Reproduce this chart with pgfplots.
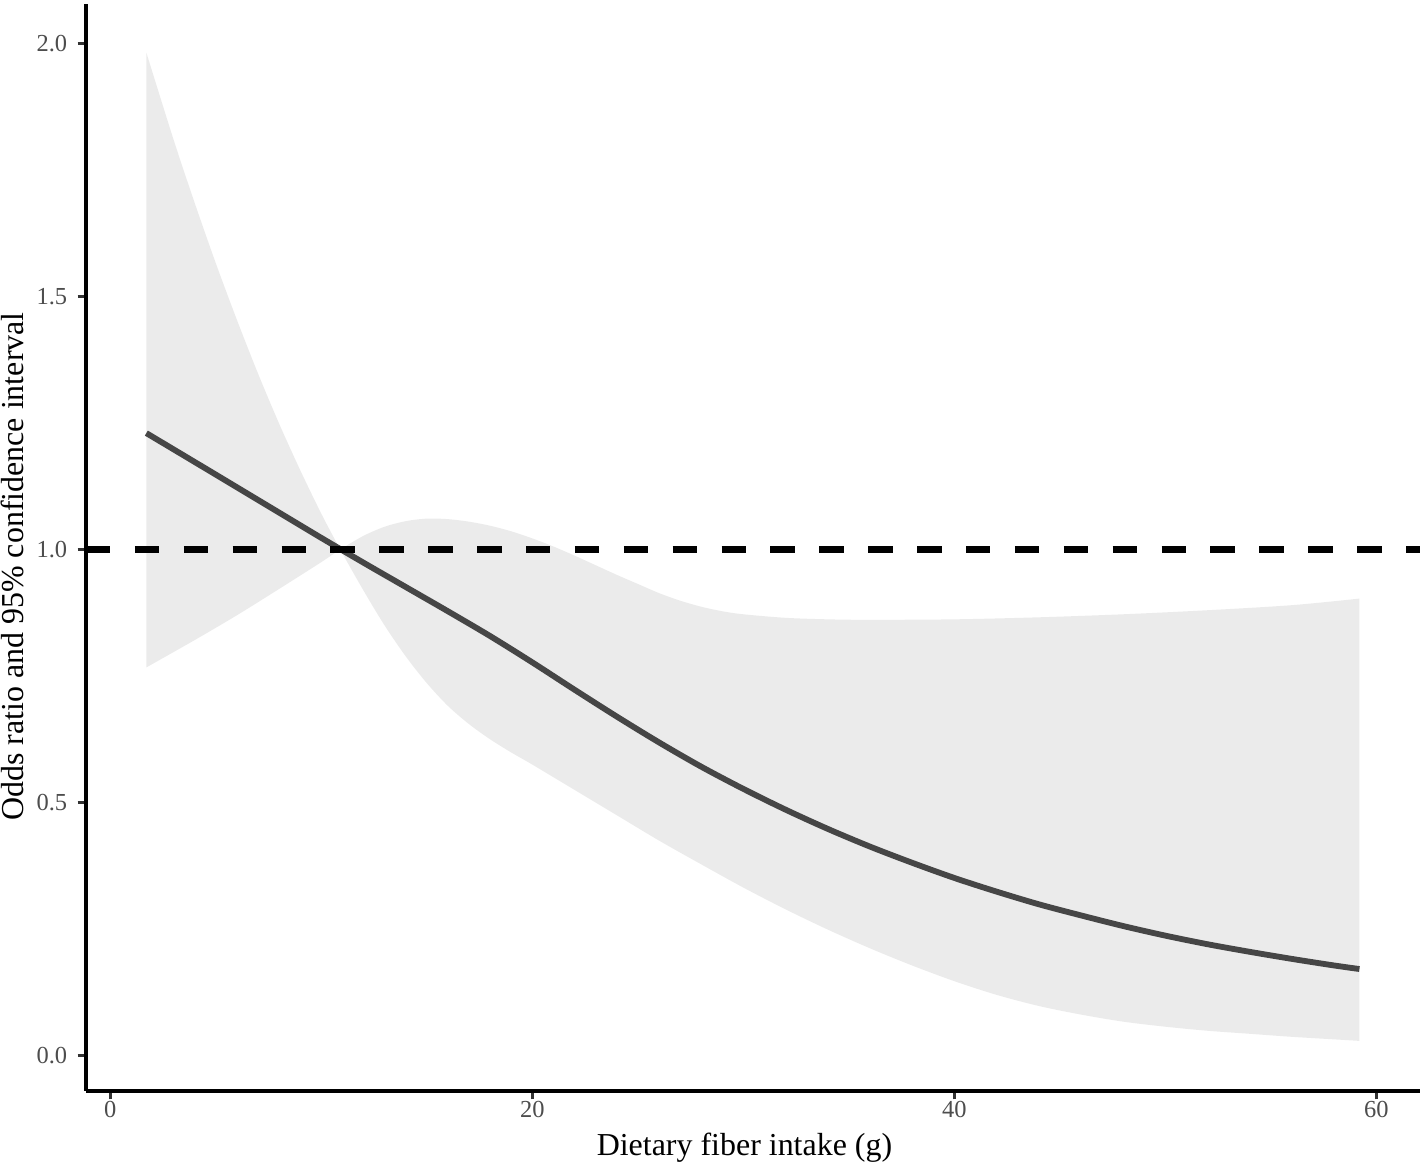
\documentclass[border=0pt]{standalone}
\usepackage{fontspec}
\setmainfont{Liberation Serif}
\usepackage{pgfplots}
\pgfplotsset{compat=1.18}
\usepgfplotslibrary{fillbetween}
\definecolor{bandgrey}{HTML}{EBEBEB}
\definecolor{linegrey}{HTML}{464646}
\definecolor{tickgrey}{HTML}{4D4D4D}

% dose-response: OR and 95% CI
% ciA: the steep bound (upper left of 10.9, lower right of it)
\pgfplotstableread{
x      y
1.71   1.982
3      1.810
4      1.685
5      1.566
6      1.454
7      1.348
8      1.249
9      1.157
10     1.071
10.9   1.000
12     0.919
13     0.850
14     0.789
15     0.736
16     0.691
17     0.655
18     0.625
19     0.599
20     0.575
22     0.525
24     0.475
26     0.425
28     0.378
30     0.332
32     0.289
34     0.249
36     0.212
38     0.178
40     0.147
42     0.120
44     0.098
46     0.081
48     0.067
50     0.057
52     0.049
54     0.043
56     0.037
58     0.032
59.2   0.029
}\ciA
% ciB: the flat bound (lower left of 10.9, upper right of it)
\pgfplotstableread{
x      y
1.71   0.767
4      0.821
6      0.870
8      0.922
10     0.975
10.9   1.000
12     1.027
13     1.045
14     1.056
15     1.061
16     1.060
17     1.055
18     1.047
19     1.036
20     1.022
21     1.006
22     0.988
23     0.969
24     0.950
25     0.932
26     0.914
27     0.899
28     0.887
29     0.878
30     0.872
32     0.865
34     0.862
36     0.861
40     0.862
44     0.866
48     0.872
52     0.880
56     0.890
59.2   0.903
}\ciB
\pgfplotstableread{
x      y
1.71   1.230
4      1.173
6      1.123
8      1.073
10     1.023
12     0.974
14     0.926
16     0.878
18     0.829
20     0.777
22     0.723
24     0.670
26     0.619
28     0.571
30     0.527
32     0.486
34     0.448
36     0.413
38     0.381
40     0.351
42     0.324
44     0.299
46     0.277
48     0.256
50     0.237
52     0.220
54     0.205
56     0.191
58     0.178
59.2   0.171
}\orline

\begin{document}
\begin{tikzpicture}
\begin{axis}[
    scale only axis,
    width=480.24pt, height=391.32pt,
    xmin=-1.15, xmax=62.07,
    ymin=-0.07, ymax=2.078,
    axis x line*=bottom, axis y line*=left,
    axis line style={-, line width=1.2pt, black},
    xtick={0,20,40,60},
    ytick={0,0.5,1,1.5,2},
    yticklabel style={/pgf/number format/fixed, /pgf/number format/fixed zerofill, /pgf/number format/precision=1},
    /pgf/number format/assume math mode=true,
    tick align=outside,
    major tick length=3pt,
    tick style={line width=1.1pt, black!80},
    tick label style={font=\fontsize{8.8}{10}\selectfont, text=tickgrey},
    xticklabel style={inner sep=0pt, anchor=north, yshift=-0.6pt},
    yticklabel style={inner sep=0pt, anchor=east, xshift=-3.6pt},
    xlabel={Dietary fiber intake (g)},
    ylabel={Odds ratio and 95\% confidence interval},
    every axis x label/.style={at={(axis description cs:0.4936,-0.0589)}, anchor=base, font=\fontsize{11.5}{13}\selectfont},
    every axis y label/.style={at={(axis description cs:-0.0465,0.4825)}, rotate=90, anchor=base, font=\fontsize{11.5}{13}\selectfont},
    clip=false,
]
\coordinate (sw) at (rel axis cs:0,0);
\addplot[name path=ciA, draw=none, smooth] table[x=x, y=y] {\ciA};
\addplot[name path=ciB, draw=none, smooth] table[x=x, y=y] {\ciB};
\addplot[fill=bandgrey, draw=none] fill between[of=ciA and ciB];
\addplot[linegrey, line width=2.1pt, smooth] table[x=x, y=y] {\orline};
\addplot[black, line width=2.2pt, dash pattern=on 8.8pt off 8.8pt] coordinates {(-1.15,1) (62.07,1)};
\end{axis}
\pgfresetboundingbox
\path (sw) ++(-30.96pt,-26.28pt) rectangle ++(512.28pt,419.04pt);
\end{tikzpicture}
\end{document}
